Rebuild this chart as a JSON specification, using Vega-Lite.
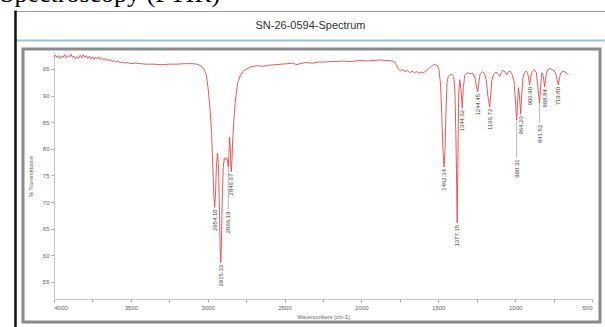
{
  "$schema": "https://vega.github.io/schema/vega-lite/v6.json",
  "width": 577,
  "height": 273,
  "autosize": {"type": "none"},
  "padding": {"left": 23, "top": 49, "right": 5, "bottom": 5},
  "background": "white",
  "config": {
    "view": {"stroke": "#8a8a8a", "strokeWidth": 3},
    "font": "Liberation Sans"
  },
  "title": {
    "text": "Spectroscopy (FTIR)",
    "anchor": "start",
    "frame": "group",
    "font": "Liberation Serif",
    "fontSize": 26,
    "fontWeight": "normal",
    "color": "#000000",
    "baseline": "alphabetic",
    "offset": 0,
    "dy": 17,
    "dx": -23
  },
  "datasets": {
    "spectrum": [
      {"wn": 4000, "T": 97.2}, {"wn": 3990, "T": 97.6}, {"wn": 3980, "T": 97.1}, {"wn": 3970, "T": 97.5},
      {"wn": 3960, "T": 97.0}, {"wn": 3950, "T": 97.4}, {"wn": 3940, "T": 97.2}, {"wn": 3930, "T": 97.7},
      {"wn": 3920, "T": 97.1}, {"wn": 3910, "T": 97.5}, {"wn": 3900, "T": 97.3}, {"wn": 3890, "T": 97.8},
      {"wn": 3880, "T": 97.2}, {"wn": 3870, "T": 97.4}, {"wn": 3860, "T": 96.9}, {"wn": 3850, "T": 97.3},
      {"wn": 3840, "T": 97.0}, {"wn": 3830, "T": 97.6}, {"wn": 3820, "T": 97.1}, {"wn": 3810, "T": 97.7},
      {"wn": 3800, "T": 97.2}, {"wn": 3790, "T": 97.5}, {"wn": 3780, "T": 97.0}, {"wn": 3770, "T": 97.4},
      {"wn": 3760, "T": 96.9}, {"wn": 3750, "T": 97.3}, {"wn": 3740, "T": 96.8}, {"wn": 3730, "T": 97.2},
      {"wn": 3720, "T": 96.9}, {"wn": 3710, "T": 97.3}, {"wn": 3700, "T": 96.8}, {"wn": 3690, "T": 97.1},
      {"wn": 3680, "T": 96.7}, {"wn": 3670, "T": 97.0}, {"wn": 3660, "T": 96.6}, {"wn": 3650, "T": 96.9},
      {"wn": 3640, "T": 96.5}, {"wn": 3630, "T": 96.7}, {"wn": 3620, "T": 96.4}, {"wn": 3610, "T": 96.6},
      {"wn": 3600, "T": 96.3}, {"wn": 3585, "T": 96.5}, {"wn": 3570, "T": 96.2}, {"wn": 3555, "T": 96.3},
      {"wn": 3540, "T": 96.1}, {"wn": 3520, "T": 96.2}, {"wn": 3500, "T": 96.0}, {"wn": 3470, "T": 96.1},
      {"wn": 3440, "T": 96.0}, {"wn": 3400, "T": 95.9}, {"wn": 3350, "T": 95.9}, {"wn": 3300, "T": 95.8},
      {"wn": 3250, "T": 95.9}, {"wn": 3200, "T": 95.9}, {"wn": 3150, "T": 96.0}, {"wn": 3100, "T": 96.0},
      {"wn": 3070, "T": 95.9}, {"wn": 3045, "T": 95.6}, {"wn": 3025, "T": 95.0}, {"wn": 3010, "T": 94.0},
      {"wn": 2998, "T": 91.5}, {"wn": 2985, "T": 87.5}, {"wn": 2975, "T": 83.0}, {"wn": 2966, "T": 76.0},
      {"wn": 2960, "T": 71.0}, {"wn": 2955, "T": 69.0}, {"wn": 2950, "T": 71.0}, {"wn": 2943, "T": 77.0},
      {"wn": 2936, "T": 79.2}, {"wn": 2930, "T": 77.0}, {"wn": 2924, "T": 69.0}, {"wn": 2919, "T": 61.0},
      {"wn": 2915, "T": 58.6}, {"wn": 2911, "T": 62.0}, {"wn": 2906, "T": 70.0}, {"wn": 2899, "T": 76.5},
      {"wn": 2892, "T": 78.3}, {"wn": 2884, "T": 78.0}, {"wn": 2876, "T": 78.3}, {"wn": 2870, "T": 77.5},
      {"wn": 2866, "T": 76.6}, {"wn": 2862, "T": 79.0}, {"wn": 2858, "T": 82.2}, {"wn": 2853, "T": 80.0},
      {"wn": 2849, "T": 76.5}, {"wn": 2846, "T": 75.7}, {"wn": 2843, "T": 77.5}, {"wn": 2837, "T": 82.0},
      {"wn": 2830, "T": 85.4}, {"wn": 2820, "T": 89.0}, {"wn": 2805, "T": 92.4}, {"wn": 2785, "T": 94.0},
      {"wn": 2760, "T": 94.8}, {"wn": 2720, "T": 95.4}, {"wn": 2680, "T": 95.6}, {"wn": 2640, "T": 95.5},
      {"wn": 2600, "T": 95.7}, {"wn": 2560, "T": 95.8}, {"wn": 2520, "T": 95.9}, {"wn": 2480, "T": 96.0},
      {"wn": 2450, "T": 96.1}, {"wn": 2420, "T": 95.8}, {"wn": 2400, "T": 96.0}, {"wn": 2360, "T": 96.2},
      {"wn": 2320, "T": 96.1}, {"wn": 2280, "T": 96.3}, {"wn": 2240, "T": 96.3}, {"wn": 2200, "T": 96.4},
      {"wn": 2160, "T": 96.4}, {"wn": 2120, "T": 96.5}, {"wn": 2080, "T": 96.4}, {"wn": 2040, "T": 96.5},
      {"wn": 2000, "T": 96.6}, {"wn": 1960, "T": 96.5}, {"wn": 1920, "T": 96.6}, {"wn": 1880, "T": 96.7},
      {"wn": 1840, "T": 96.6}, {"wn": 1800, "T": 96.5}, {"wn": 1780, "T": 96.2}, {"wn": 1768, "T": 95.5},
      {"wn": 1758, "T": 94.9}, {"wn": 1745, "T": 94.7}, {"wn": 1730, "T": 94.9}, {"wn": 1715, "T": 94.5},
      {"wn": 1700, "T": 94.7}, {"wn": 1685, "T": 94.3}, {"wn": 1670, "T": 94.6}, {"wn": 1655, "T": 94.3},
      {"wn": 1640, "T": 94.5}, {"wn": 1625, "T": 94.2}, {"wn": 1610, "T": 94.4}, {"wn": 1595, "T": 94.3},
      {"wn": 1580, "T": 94.6}, {"wn": 1565, "T": 95.0}, {"wn": 1550, "T": 95.4}, {"wn": 1535, "T": 95.7},
      {"wn": 1520, "T": 95.9}, {"wn": 1505, "T": 95.6}, {"wn": 1495, "T": 94.8}, {"wn": 1485, "T": 92.0},
      {"wn": 1477, "T": 86.0}, {"wn": 1470, "T": 80.0}, {"wn": 1462, "T": 76.6}, {"wn": 1456, "T": 80.0},
      {"wn": 1450, "T": 87.0}, {"wn": 1443, "T": 92.5}, {"wn": 1435, "T": 93.6}, {"wn": 1425, "T": 93.9},
      {"wn": 1412, "T": 94.0}, {"wn": 1400, "T": 93.6}, {"wn": 1392, "T": 91.0}, {"wn": 1385, "T": 82.0},
      {"wn": 1377, "T": 66.1}, {"wn": 1372, "T": 79.0}, {"wn": 1367, "T": 90.5}, {"wn": 1360, "T": 93.0},
      {"wn": 1352, "T": 91.0}, {"wn": 1344, "T": 87.7}, {"wn": 1337, "T": 91.5}, {"wn": 1328, "T": 93.8},
      {"wn": 1310, "T": 94.3}, {"wn": 1290, "T": 94.1}, {"wn": 1275, "T": 94.2}, {"wn": 1262, "T": 93.4},
      {"wn": 1252, "T": 91.8}, {"wn": 1244, "T": 90.7}, {"wn": 1237, "T": 92.2}, {"wn": 1228, "T": 94.0},
      {"wn": 1212, "T": 94.5}, {"wn": 1200, "T": 94.2}, {"wn": 1188, "T": 93.0}, {"wn": 1177, "T": 89.8},
      {"wn": 1166, "T": 87.9}, {"wn": 1160, "T": 89.5}, {"wn": 1152, "T": 92.8}, {"wn": 1140, "T": 94.0},
      {"wn": 1125, "T": 94.4}, {"wn": 1110, "T": 94.1}, {"wn": 1100, "T": 93.6}, {"wn": 1090, "T": 94.3},
      {"wn": 1078, "T": 94.8}, {"wn": 1065, "T": 94.4}, {"wn": 1055, "T": 93.9}, {"wn": 1045, "T": 94.4},
      {"wn": 1032, "T": 94.6}, {"wn": 1020, "T": 94.0}, {"wn": 1008, "T": 92.8}, {"wn": 998, "T": 89.0},
      {"wn": 990, "T": 85.4}, {"wn": 984, "T": 89.0}, {"wn": 978, "T": 91.5}, {"wn": 972, "T": 90.0},
      {"wn": 964, "T": 86.5}, {"wn": 958, "T": 90.0}, {"wn": 950, "T": 93.2}, {"wn": 940, "T": 94.3},
      {"wn": 928, "T": 94.6}, {"wn": 918, "T": 94.1}, {"wn": 912, "T": 93.3}, {"wn": 906, "T": 92.0},
      {"wn": 900, "T": 93.4}, {"wn": 890, "T": 94.5}, {"wn": 875, "T": 94.9}, {"wn": 862, "T": 94.3},
      {"wn": 852, "T": 91.5}, {"wn": 841, "T": 88.6}, {"wn": 834, "T": 91.8}, {"wn": 826, "T": 94.3},
      {"wn": 818, "T": 93.8}, {"wn": 808, "T": 91.6}, {"wn": 800, "T": 93.6}, {"wn": 790, "T": 94.8},
      {"wn": 775, "T": 95.1}, {"wn": 760, "T": 94.9}, {"wn": 745, "T": 94.6}, {"wn": 735, "T": 94.0},
      {"wn": 727, "T": 93.0}, {"wn": 719, "T": 92.0}, {"wn": 713, "T": 93.0}, {"wn": 705, "T": 94.2},
      {"wn": 690, "T": 94.6}, {"wn": 675, "T": 94.4}, {"wn": 660, "T": 94.1}, {"wn": 652, "T": 93.9}
    ],
    "peaks": [
      {"wn": 2955, "T": 69.0, "label_T": 69.0, "label": "2954.10"},
      {"wn": 2915, "T": 58.6, "label_T": 58.6, "label": "2915.33"},
      {"wn": 2866, "T": 76.6, "label_T": 68.6, "label": "2866.19"},
      {"wn": 2846, "T": 75.7, "label_T": 75.7, "label": "2846.67"},
      {"wn": 1462, "T": 76.6, "label_T": 76.6, "label": "1462.34"},
      {"wn": 1377, "T": 66.1, "label_T": 66.1, "label": "1377.15"},
      {"wn": 1344, "T": 87.7, "label_T": 87.7, "label": "1344.62"},
      {"wn": 1244, "T": 90.7, "label_T": 90.7, "label": "1244.45"},
      {"wn": 1166, "T": 87.9, "label_T": 87.9, "label": "1166.72"},
      {"wn": 990, "T": 85.4, "label_T": 78.4, "label": "990.31"},
      {"wn": 964, "T": 86.5, "label_T": 86.5, "label": "964.20"},
      {"wn": 906, "T": 92.0, "label_T": 92.0, "label": "906.90"},
      {"wn": 841, "T": 88.6, "label_T": 84.9, "label": "841.52"},
      {"wn": 808, "T": 91.6, "label_T": 91.6, "label": "808.84"},
      {"wn": 719, "T": 92.0, "label_T": 92.0, "label": "719.80"}
    ]
  },
  "resolve": {"scale": {"x": "independent", "y": "independent"}, "axis": {"x": "independent", "y": "independent"}},
  "layer": [
    {
      "data": {"name": "spectrum"},
      "mark": {"type": "line", "color": "#e34a48", "strokeWidth": 0.9, "interpolate": "linear"},
      "encoding": {
        "x": {
          "field": "wn", "type": "quantitative",
          "scale": {"domain": [4000, 500], "range": [31, 569], "nice": false, "zero": false},
          "axis": {
            "orient": "bottom", "offset": -23,
            "values": [4000, 3750, 3500, 3250, 3000, 2750, 2500, 2250, 2000, 1750, 1500, 1250, 1000, 750, 500],
            "labelExpr": "datum.value % 500 === 0 ? format(datum.value, 'd') : ''",
            "labelOverlap": false,
            "labelFontSize": 6, "labelColor": "#666", "labelPadding": 2,
            "tickSize": 3, "tickColor": "#aaa", "domainColor": "#c8c8c8", "grid": false,
            "title": "Wavenumbers (cm-1)", "titleFontSize": 5.5, "titleFontWeight": "normal",
            "titleColor": "#666", "titlePadding": 4
          }
        },
        "y": {
          "field": "T", "type": "quantitative",
          "scale": {"domain": [51.8, 98], "range": [250, 4], "nice": false, "zero": false},
          "axis": {
            "orient": "left", "offset": -31,
            "values": [55, 60, 65, 70, 75, 80, 85, 90, 95],
            "labelFontSize": 6, "labelColor": "#666", "labelPadding": 2,
            "tickSize": 3, "tickColor": "#aaa", "domainColor": "#c8c8c8", "grid": false,
            "title": "% Transmittance", "titleFontSize": 5.5, "titleFontWeight": "normal",
            "titleColor": "#666", "titlePadding": 9
          }
        }
      }
    },
    {
      "data": {"name": "peaks"},
      "transform": [{"filter": "datum.label_T < datum.T"}],
      "mark": {"type": "rule", "color": "#a8a8a8", "strokeWidth": 0.8},
      "encoding": {
        "x": {"field": "wn", "type": "quantitative", "scale": {"domain": [4000, 500], "range": [31, 569], "nice": false, "zero": false}, "axis": null},
        "y": {"field": "T", "type": "quantitative", "scale": {"domain": [51.8, 98], "range": [250, 4], "nice": false, "zero": false}, "axis": null},
        "y2": {"field": "label_T"}
      }
    },
    {
      "data": {"name": "peaks"},
      "mark": {"type": "text", "angle": 270, "align": "right", "baseline": "middle", "fontSize": 6, "font": "Liberation Sans", "color": "#444", "dx": -2},
      "encoding": {
        "x": {"field": "wn", "type": "quantitative", "scale": {"domain": [4000, 500], "range": [31, 569], "nice": false, "zero": false}, "axis": null},
        "y": {"field": "label_T", "type": "quantitative", "scale": {"domain": [51.8, 98], "range": [250, 4], "nice": false, "zero": false}, "axis": null},
        "text": {"field": "label"}
      }
    },
    {
      "data": {"values": [{"u": 0.5}]},
      "mark": {"type": "point", "opacity": 0},
      "encoding": {
        "x": {
          "field": "u", "type": "quantitative",
          "scale": {"domain": [0, 1], "range": [-8, 582]},
          "axis": {
            "orient": "top", "offset": 9, "labels": false, "ticks": false, "grid": false,
            "domainColor": "#9dc3e6", "domainWidth": 2,
            "title": "SN-26-0594-Spectrum", "titleFont": "Liberation Sans", "titleFontSize": 11,
            "titleFontWeight": "normal", "titleColor": "#333", "titlePadding": 10
          }
        },
        "y": {
          "field": "u", "type": "quantitative",
          "scale": {"domain": [0, 1], "range": [278, -39]},
          "axis": {"orient": "left", "offset": 8, "labels": false, "ticks": false, "grid": false, "title": null, "domainColor": "#111", "domainWidth": 2.5}
        }
      }
    },
    {
      "data": {"values": [{"u": 0.5}]},
      "mark": {"type": "point", "opacity": 0},
      "encoding": {
        "x": {
          "field": "u", "type": "quantitative",
          "scale": {"domain": [0, 1], "range": [-8, 582]},
          "axis": {"orient": "top", "offset": 38, "labels": false, "ticks": false, "grid": false, "title": null, "domainColor": "#9a9a9a", "domainWidth": 1.2}
        }
      }
    }
  ]
}
